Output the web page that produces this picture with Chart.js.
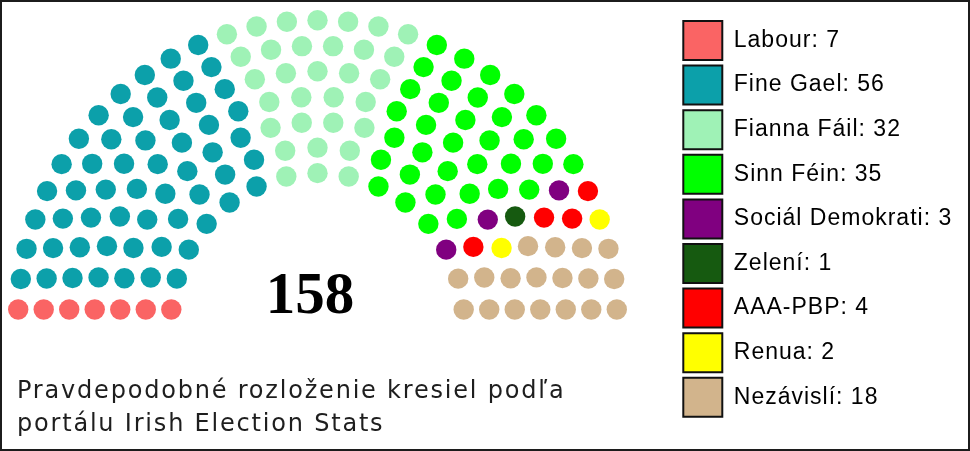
<!DOCTYPE html>
<html>
<head>
<meta charset="utf-8">
<script src="https://cdn.jsdelivr.net/npm/chart.js@4"></script>
<style>
  html, body { margin: 0; padding: 0; background: #fff; }
  #wrap { position: relative; width: 970px; height: 451px; overflow: hidden; }
  #wrap canvas { position: absolute; left: 0; top: 0; }
  #caption { position: absolute; left: 17px; top: 374px; font: 24px "DejaVu Sans"; line-height: 33px; letter-spacing: 1.8px; color: #1e1e1e; white-space: nowrap; }
  #frame { position: absolute; left: 0; top: 0; width: 970px; height: 451px; box-sizing: border-box; border: 2px solid #1c1c1c; pointer-events: none; }
</style>
</head>
<body>
<div id="wrap">
  <canvas id="seatChart" width="970" height="451"></canvas>
  <div id="caption">Pravdepodobné rozloženie kresiel podľa<br>portálu Irish Election Stats</div>
  <div id="frame"></div>
</div>
<script>
// Parties, seats and colours
const parties = ['Labour', 'Fine Gael', 'Fianna Fáil', 'Sinn Féin', 'Sociál Demokrati', 'Zelení', 'AAA-PBP', 'Renua', 'Nezávislí'];
const seats = [7, 56, 32, 35, 3, 1, 4, 2, 18];
const partyColors = ['#fa6464', '#0ca0aa', '#9ff2b6', '#00ff00', '#800080', '#165a10', '#ff0000', '#ffff00', '#d2b48c'];

// Where the arch sits on the canvas (pixels) and how big one unit is
const ARCH_X = 317.5;
const ARCH_Y = 319.7;
const PX_PER_UNIT = 178.4;

// How many seats fit in n rows (parliament diagram tool table)
const rowTotals = [3, 15, 33, 61, 95, 138, 189, 247, 313, 388, 469, 559, 657, 762, 876, 997];

// Seat centres on concentric rows, sorted left to right by angle
function seatPositions(total) {
    const rows = rowTotals.findIndex(t => t >= total) + 1;
    const radius = 0.4 / rows;
    const pos = [];
    for (let i = 1; i <= rows; i++) {
        const R = (3 * rows + 4 * i - 2) / (4 * rows);
        let J;
        if (i < rows) {
            J = Math.floor(total / rowTotals[rows - 1] * Math.PI / (2 * Math.asin(2 / (3 * rows + 4 * i - 2))));
        } else {
            J = total - pos.length;
        }
        if (J === 1) {
            pos.push({ a: Math.PI / 2, x: 0, y: R });
        } else {
            for (let j = 0; j < J; j++) {
                const a = j * (Math.PI - 2 * Math.sin(radius / R)) / (J - 1) + Math.sin(radius / R);
                pos.push({ a: a, x: R * Math.cos(a), y: R * Math.sin(a) });
            }
        }
    }
    pos.sort((p, q) => q.a - p.a);
    return { pos: pos, radius: radius };
}

const totalSeats = seats.reduce((s, v) => s + v, 0);
const layout = seatPositions(totalSeats);

// One dataset per party, seats handed out in order
let next = 0;
const datasets = parties.map((name, i) => {
    const pts = layout.pos.slice(next, next + seats[i]).map(p => ({ x: p.x, y: p.y }));
    next += seats[i];
    return {
        label: name,
        data: pts,
        backgroundColor: partyColors[i],
        borderWidth: 0,
        pointRadius: layout.radius * PX_PER_UNIT,
        pointHoverRadius: layout.radius * PX_PER_UNIT,
        clip: false
    };
});

// Fit the scales so one unit is the same size on both axes
const archPlugin = {
    id: 'archPlugin',
    beforeLayout(chart) {
        chart.ctx.letterSpacing = '1px';
    },
    afterLayout(chart) {
        const x = chart.scales.x;
        const y = chart.scales.y;
        x.min = (x.left - ARCH_X) / PX_PER_UNIT;
        x.max = (x.right - ARCH_X) / PX_PER_UNIT;
        y.min = (ARCH_Y - y.bottom) / PX_PER_UNIT;
        y.max = (ARCH_Y - y.top) / PX_PER_UNIT;
        x.configure();
        y.configure();
    },
    beforeDraw(chart) {
        chart.ctx.letterSpacing = '1px';
    },
    afterDatasetsDraw(chart) {
        const ctx = chart.ctx;
        ctx.save();
        ctx.letterSpacing = '0px';
        ctx.font = 'bold 59px "Liberation Serif"';
        ctx.fillStyle = '#000';
        ctx.textAlign = 'center';
        ctx.textBaseline = 'alphabetic';
        ctx.fillText(String(totalSeats), ARCH_X - 7.5, 313);
        ctx.restore();
    }
};

new Chart(document.getElementById('seatChart').getContext('2d'), {
    type: 'scatter',
    data: { datasets: datasets },
    options: {
        responsive: false,
        animation: false,
        events: [],
        layout: { padding: { top: 15.4, right: 7.8, bottom: 0, left: 0 } },
        scales: {
            x: { type: 'linear', display: false, bounds: 'data' },
            y: { type: 'linear', display: false, bounds: 'data' }
        },
        plugins: {
            tooltip: { enabled: false },
            legend: {
                position: 'right',
                align: 'start',
                labels: {
                    boxWidth: 39,
                    boxHeight: 39,
                    padding: 5.6,
                    color: '#333',
                    font: { family: '"Liberation Sans", Arial, sans-serif', size: 23 },
                    generateLabels: chart => parties.map((name, i) => ({
                        text: name + ': ' + seats[i],
                        fillStyle: partyColors[i],
                        strokeStyle: '#111',
                        lineWidth: 2,
                        hidden: false,
                        datasetIndex: i
                    }))
                }
            }
        }
    },
    plugins: [archPlugin]
});
</script>
</body>
</html>
